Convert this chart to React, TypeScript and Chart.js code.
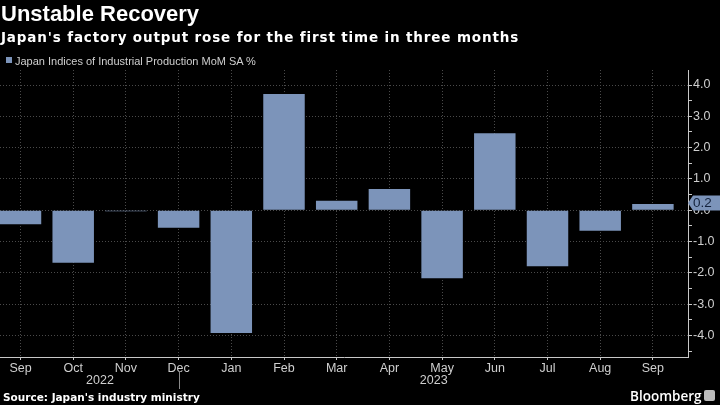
import React, { useEffect, useRef } from "react";
import { Chart, registerables } from "chart.js";

Chart.register(...registerables);

// ---- data ----
const months = ["Sep", "Oct", "Nov", "Dec", "Jan", "Feb", "Mar", "Apr", "May", "Jun", "Jul", "Aug", "Sep"];
const values = [-0.45, -1.68, -0.03, -0.56, -3.92, 3.71, 0.3, 0.68, -2.17, 2.46, -1.79, -0.66, 0.2];
const yearLabels = ["2022", "2023"];
const yearStartIndex = [0, 4];
const yTickValues = [-4.5, -4, -3.5, -3, -2.5, -2, -1.5, -1, -0.5, 0, 0.5, 1, 1.5, 2, 2.5, 3, 3.5, 4];
const titleText = "Unstable Recovery";
const subtitleText = "Japan's factory output rose for the first time in three months";
const legendText = "Japan Indices of Industrial Production MoM SA %";
const sourceText = "Source: Japan's industry ministry";

const BAR = "#7c94ba";
const GRID = "#4a4a4a";
const AXIS = "#c8c8c8";
const TEXT = "#cfcfcf";
const FONT = "'Liberation Sans', Arial, sans-serif";

const extrasPlugin = {
  id: "extras",
  afterDraw(chart: any) {
    const { ctx, scales, chartArea } = chart;
    const xs = scales.x;
    const ys = scales.y;
    ctx.save();
    // year separator + year labels
    const sepX = Math.round(xs.getPixelForValue(yearStartIndex[1] - 1)) + 0.5;
    ctx.strokeStyle = "#8a8a8a";
    ctx.lineWidth = 1;
    ctx.beginPath();
    ctx.moveTo(sepX, 371);
    ctx.lineTo(sepX, 389);
    ctx.stroke();
    ctx.fillStyle = TEXT;
    ctx.font = `12.5px ${FONT}`;
    ctx.textAlign = "center";
    ctx.textBaseline = "middle";
    const x0 = xs.getPixelForValue(yearStartIndex[0]);
    ctx.fillText(yearLabels[0], (x0 + sepX) / 2, 381);
    ctx.fillText(yearLabels[1], (sepX + chartArea.right) / 2, 381);

    // last value callout
    const last = values[values.length - 1];
    const y = ys.getPixelForValue(last) - 1;
    const left = chartArea.right;
    ctx.fillStyle = BAR;
    ctx.beginPath();
    ctx.moveTo(left, y);
    ctx.lineTo(left + 5, y - 7.5);
    ctx.lineTo(720, y - 7.5);
    ctx.lineTo(720, y + 7.5);
    ctx.lineTo(left + 5, y + 7.5);
    ctx.closePath();
    ctx.fill();
    ctx.fillStyle = "#14233d";
    ctx.textAlign = "left";
    ctx.textBaseline = "middle";
    ctx.font = `13.5px ${FONT}`;
    ctx.fillText(last.toFixed(1), left + 5, y + 0.5);
    ctx.restore();
  },
};

export default function App() {
  const ref = useRef<HTMLCanvasElement>(null);

  useEffect(() => {
    if (!ref.current) return;
    const chart = new Chart(ref.current, {
      type: "bar",
      data: {
        datasets: [
          {
            label: legendText,
            data: values.map((v, i) => ({ x: i, y: v })),
            backgroundColor: BAR,
            borderWidth: 0,
            barPercentage: 0.787,
            categoryPercentage: 1,
          },
        ],
      },
      options: {
        animation: false,
        responsive: false,
        maintainAspectRatio: false,
        layout: { padding: { top: 70, left: 0, right: 0, bottom: 0 } },
        plugins: { legend: { display: false }, tooltip: { enabled: false } },
        scales: {
          x: {
            type: "linear",
            offset: false,
            min: -0.389,
            max: 12.666,
            afterBuildTicks: (scale: any) => {
              scale.ticks = months.map((_, i) => ({ value: i }));
            },
            afterFit: (scale: any) => {
              scale.height = 48;
            },
            grid: {
              offset: false,
              color: GRID,
              lineWidth: 1,
              drawTicks: true,
              tickLength: 3,
              tickColor: AXIS,
            },
            border: { display: true, color: AXIS, width: 1, dash: [1, 2] },
            ticks: {
              color: TEXT,
              font: { family: FONT, size: 12.5 },
              padding: 1,
              maxRotation: 0,
              autoSkip: false,
              callback: (v: any) => months[v as number] ?? "",
            },
          },
          y: {
            position: "right",
            min: -4.69,
            max: 4.48,
            afterBuildTicks: (scale: any) => {
              scale.ticks = yTickValues.map((v) => ({ value: v }));
            },
            afterFit: (scale: any) => {
              scale.width = 32;
            },
            grid: {
              color: (c: any) => (c.tick && Number.isInteger(c.tick.value) ? GRID : "rgba(0,0,0,0)"),
              lineWidth: 1,
              drawTicks: true,
              tickLength: 4,
              tickColor: AXIS,
            },
            border: { display: true, color: AXIS, width: 1, dash: [1, 2] },
            ticks: {
              color: TEXT,
              font: { family: FONT, size: 12.5 },
              padding: 1,
              autoSkip: false,
              callback: (v: any) => (Number.isInteger(v) ? Number(v).toFixed(1) : ""),
            },
          },
        },
      },
      plugins: [extrasPlugin],
    });
    return () => chart.destroy();
  }, []);

  return (
    <div
      style={{
        position: "fixed",
        left: 0,
        top: 0,
        width: 720,
        height: 405,
        background: "#000",
        overflow: "hidden",
      }}
    >
      <canvas ref={ref} width={720} height={405} style={{ position: "absolute", left: 0, top: 0, width: 720, height: 405 }} />
      <div
        style={{
          position: "absolute",
          left: 1,
          top: 3,
          color: "#fff",
          font: `bold 22px ${FONT}`,
          lineHeight: "22px",
          whiteSpace: "nowrap",
        }}
      >
        {titleText}
      </div>
      <div
        style={{
          position: "absolute",
          left: 1,
          top: 29,
          color: "#fff",
          font: "bold 13.5px 'DejaVu Sans', sans-serif",
          letterSpacing: "0.85px",
          lineHeight: "16px",
          whiteSpace: "nowrap",
        }}
      >
        {subtitleText}
      </div>
      <div style={{ position: "absolute", left: 6, top: 57, width: 6, height: 6, background: BAR }} />
      <div
        style={{
          position: "absolute",
          left: 15,
          top: 54,
          color: TEXT,
          font: `11px ${FONT}`,
          lineHeight: "14px",
          whiteSpace: "nowrap",
        }}
      >
        {legendText}
      </div>
      <div
        style={{
          position: "absolute",
          left: 3,
          top: 390,
          color: "#fff",
          font: "bold 10.5px 'DejaVu Sans', sans-serif",
          lineHeight: "14px",
          whiteSpace: "nowrap",
        }}
      >
        {sourceText}
      </div>
      <div
        style={{
          position: "absolute",
          left: 630,
          top: 387,
          color: "#fff",
          font: "600 13.5px 'Open Sans', sans-serif",
          lineHeight: "18px",
          whiteSpace: "nowrap",
        }}
      >
        Bloomberg
      </div>
      <div
        style={{
          position: "absolute",
          left: 704,
          top: 390,
          width: 11,
          height: 11,
          background: "#bbb",
          borderRadius: 2,
        }}
      />
    </div>
  );
}
